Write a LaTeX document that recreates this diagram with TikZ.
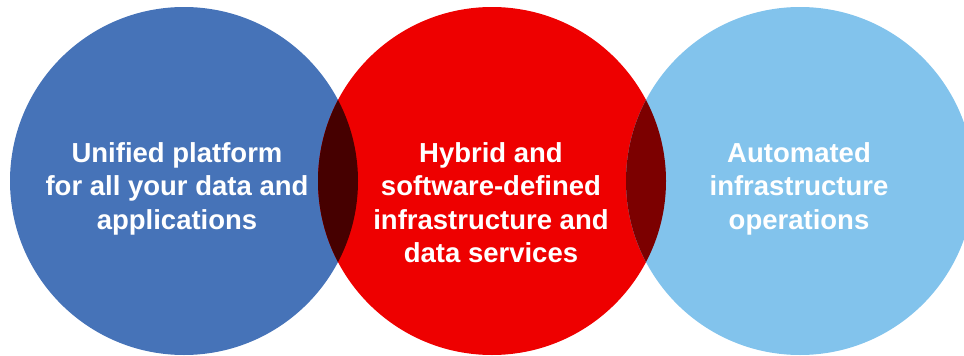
\documentclass[tikz,border=0pt]{standalone}
\usepackage{fontspec}
\setmainfont{Liberation Sans}
\definecolor{cblue}{HTML}{4673B8}
\definecolor{cred}{HTML}{EE0000}
\definecolor{clight}{HTML}{82C3EC}
\definecolor{cdarkL}{HTML}{460000}
\definecolor{cdarkR}{HTML}{7C0000}
\begin{document}
\begin{tikzpicture}[x=1pt,y=-1pt,
  disc/.style={circle, minimum size=348pt, inner sep=0pt, outer sep=0pt, draw=none},
  disctext/.style={text=white, align=center, inner sep=0pt, font=\bfseries\fontsize{27.5}{33.5}\selectfont}]
\useasboundingbox (0,0) rectangle (964,356);
\node[disc, fill=cblue] (L) at (184,181) {};
\node[disc, fill=cred] (M) at (492,181) {};
\node[disc, fill=clight] (R) at (800,181) {};
\begin{scope}
  \clip (L.center) circle[radius=174pt];
  \fill[cdarkL] (M.center) circle[radius=174pt];
\end{scope}
\begin{scope}
  \clip (R.center) circle[radius=174pt];
  \fill[cdarkR] (M.center) circle[radius=174pt];
\end{scope}
\node[disctext] (tL) at (177,188.4) {Unified platform\\for all your data and\\applications};
\node[disctext] (tM) at (491,202.5) {Hybrid and\\software-defined\\infrastructure and\\data services};
\node[disctext] (tR) at (799,188.4) {Automated\\infrastructure\\operations};
\end{tikzpicture}
\end{document}
